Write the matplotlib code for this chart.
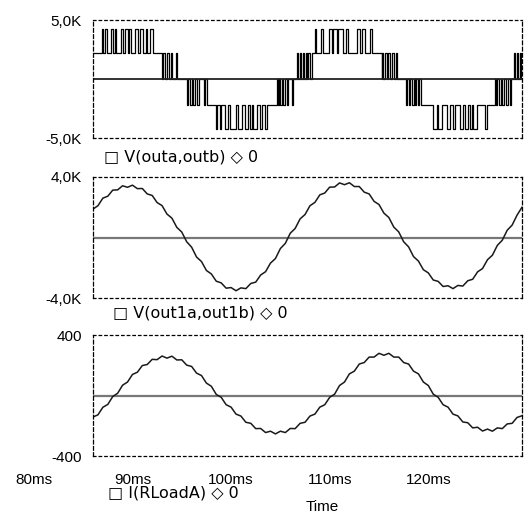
import matplotlib
matplotlib.use("Agg")
import matplotlib.pyplot as plt
import matplotlib.transforms as mtransforms
import numpy as np

plt.rcParams['font.family'] = ['Liberation Sans', 'DejaVu Sans']
plt.rcParams['font.size'] = 11

# --- top panel: V(outa,outb), stepped PWM waveform (ms, V) ---
# each band: start time, base level, pulse level, pulses as (on, off)
band_start = [86.0, 93.0, 95.4, 97.56, 104.66, 106.5, 108.2, 115.31, 117.6, 119.3, 126.77, 128.5]
band_base = [2200, 0, 0, -2200, 0, 0, 2200, 0, 0, -2200, 0, 0]
band_peak = [4200, 2200, -2200, -4200, -2200, 2200, 4200, 2200, -2200, -4200, -2200, 2200]
band_pulses = [
    [(86.95, 87.05), (87.25, 87.40), (87.80, 88.00), (88.20, 88.35), (88.80, 89.05), (89.20, 89.55),
     (89.70, 89.90), (90.30, 90.60), (90.75, 91.05), (91.35, 91.50), (91.75, 92.05)],
    [(93.1, 93.3), (93.5, 93.7), (93.9, 94.05), (94.45, 94.55)],
    [(95.55, 95.65), (95.85, 96.0), (96.15, 96.35), (96.55, 96.75), (97.3, 97.4)],
    [(98.50, 98.60), (98.85, 98.95), (99.35, 99.65), (99.90, 100.55), (100.75, 101.10), (101.40, 101.70),
     (101.90, 102.10), (102.25, 102.60), (102.90, 103.10), (103.45, 103.60)],
    [(104.75, 104.85), (105.0, 105.15), (105.3, 105.45), (105.65, 105.8), (106.15, 106.25)],
    [(106.70, 106.80), (107.0, 107.1), (107.25, 107.35), (107.55, 107.7), (107.85, 108.0)],
    [(108.55, 108.65), (109.15, 109.3), (109.95, 110.2), (110.35, 110.7), (110.8, 111.3), (111.7, 111.85),
     (112.75, 113.05), (113.3, 113.55), (114.05, 114.25)],
    [(115.35, 115.45), (115.65, 115.8), (115.95, 116.1), (116.35, 116.5), (116.75, 116.85)],
    [(117.75, 117.85), (118.05, 118.15), (118.35, 118.5), (118.65, 118.8), (118.95, 119.05)],
    [(120.45, 120.85), (120.95, 121.35), (121.9, 122.2), (122.5, 122.7), (123.2, 123.5), (123.7, 124.0),
     (124.2, 124.4), (124.5, 124.9), (125.75, 125.95)],
    [(126.9, 127.0), (127.2, 127.35), (127.5, 127.65), (127.9, 128.05), (128.3, 128.4)],
    [(128.65, 128.75), (128.95, 129.1), (129.25, 129.4)],
]
t_end = 129.5

# --- middle panel: V(out1a,out1b), sampled every 0.5 ms from 86 ms (V) ---
v_out1 = [1880, 2100, 2600, 2730, 3130, 3150, 3420, 3320, 3460, 3230, 3240, 2880, 2780, 2310, 2110,
          1550, 1280, 670, 360, -280, -640, -1290, -1590, -2180, -2410, -2890, -3000, -3350, -3310,
          -3520, -3330, -3380, -3040, -2950, -2480, -2260, -1690, -1390, -730, -390, 280, 600, 1230,
          1520, 2100, 2320, 2820, 2940, 3330, 3340, 3610, 3490, 3620, 3370, 3370, 3000, 2880, 2390,
          2180, 1610, 1320, 690, 370, -280, -620, -1260, -1560, -2130, -2340, -2810, -2900, -3240,
          -3190, -3380, -3170, -3210, -2860, -2760, -2270, -2050, -1470, -1170, -520, -180, 480, 820,
          1480, 2000]

# --- bottom panel: I(RLoadA), sampled every 0.5 ms from 86 ms (A) ---
i_load = [-142, -128, -78, -59, -7, 15, 68, 89, 139, 154, 198, 205, 239, 237, 261, 247, 260, 235,
          236, 201, 192, 148, 132, 82, 61, 7, -12, -61, -77, -123, -136, -177, -184, -219, -218,
          -245, -236, -254, -236, -245, -218, -219, -184, -177, -136, -123, -77, -61, -12, 9, 66,
          89, 143, 161, 208, 218, 254, 254, 279, 266, 279, 254, 254, 218, 208, 161, 143, 89, 66, 9,
          -12, -61, -77, -123, -135, -175, -180, -214, -210, -235, -222, -236, -214, -219, -188,
          -184, -145, -134]
t_sample = 86.0 + 0.5 * np.arange(len(v_out1))

xticks = [90, 100, 110, 120]
xtick_labels = ['90ms', '100ms', '110ms', '120ms']

# build the step waveform of the top panel
step_t, step_v = [], []
for start, base, peak, pulses in zip(band_start, band_base, band_peak, band_pulses):
    step_t.append(start)
    step_v.append(base)
    for on, off in pulses:
        step_t += [on, off]
        step_v += [peak, base]
step_t.append(t_end)
step_v.append(step_v[-1])

W, H = 531, 516
fig = plt.figure(figsize=(W / 100, H / 100), dpi=100)


def make_axes(top, bottom):
    ax = fig.add_axes([93 / W, 1 - bottom / H, (522 - 93) / W, (bottom - top) / H])
    ax.set_xlim(86.0, t_end)
    for side in ('top', 'bottom'):
        ax.spines[side].set_linestyle((0, (2, 2.5)))
        ax.spines[side].set_linewidth(0.9)
    for side in ('left', 'right'):
        ax.spines[side].set_linestyle((0, (3, 2)))
        ax.spines[side].set_linewidth(0.9)
    ax.tick_params(length=0, pad=8)
    return ax


ax1 = make_axes(20, 138)
ax1.plot(step_t, step_v, drawstyle='steps-post', color='black', lw=0.9)
ax1.axhline(0, color='#222222', lw=1.3)
ax1.set_ylim(-5000, 5000)
ax1.set_yticks([-5000, 5000], ['-5,0K', '5,0K'])
ax1.set_xticks([])

ax2 = make_axes(177, 298)
ax2.axhline(0, color='#777777', lw=1.6)
ax2.plot(t_sample, v_out1, color='#1a1a1a', lw=1.1)
ax2.set_ylim(-4000, 4000)
ax2.set_yticks([-4000, 4000], ['-4,0K', '4,0K'])
ax2.set_xticks([])

ax3 = make_axes(335, 456)
ax3.axhline(0, color='#777777', lw=1.6)
ax3.plot(t_sample, i_load, color='#1a1a1a', lw=1.1)
ax3.set_ylim(-400, 400)
ax3.set_yticks([-400, 400], ['-400', '400'])
ax3.set_xticks(xticks, xtick_labels)
ax3.tick_params(axis='x', pad=12)
trans = mtransforms.blended_transform_factory(ax3.transData, ax3.transAxes)
ax3.text(80, -0.2, '80ms', transform=trans, ha='center', va='center', clip_on=False)

legend_font = dict(family=['DejaVu Sans'], fontsize=11.5, ha='left', va='center')
fig.text(104 / W, 1 - 157 / H, '\u25a1 V(outa,outb) \u25c7 0', **legend_font)
fig.text(113 / W, 1 - 313 / H, '\u25a1 V(out1a,out1b) \u25c7 0', **legend_font)
fig.text(108 / W, 1 - 493 / H, '\u25a1 I(RLoadA) \u25c7 0', **legend_font)
fig.text(322 / W, 1 - 507 / H, 'Time', ha='center', va='center')

fig.savefig('out.png', dpi=100)
plt.close(fig)
